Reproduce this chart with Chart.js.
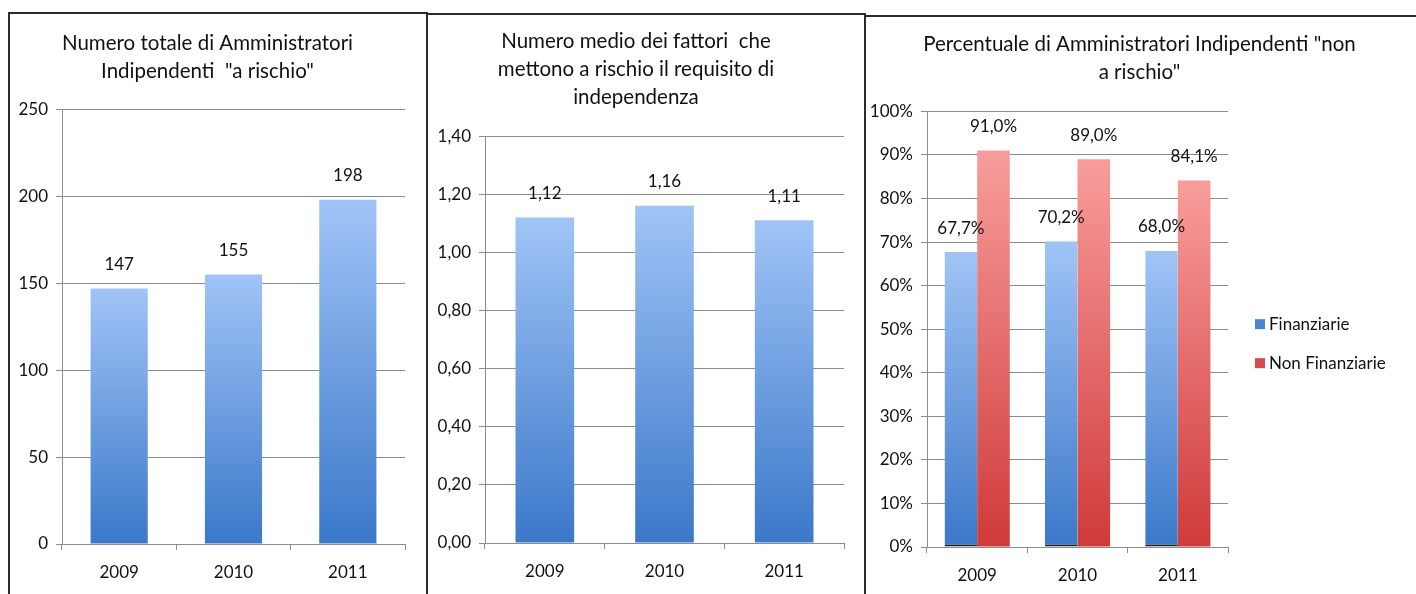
<!DOCTYPE html>
<html>
<head>
<meta charset="utf-8">
<script src="https://cdn.jsdelivr.net/npm/chart.js@4/dist/chart.umd.min.js"></script>
<style>
  html, body { margin: 0; padding: 0; background: #fff; width: 1416px; height: 594px; overflow: hidden; }
  canvas { position: absolute; }
  .frame { position: absolute; border: 2px solid #2b2b2b; box-sizing: border-box; }
</style>
</head>
<body>
<div class="frame" style="left:8px; top:12px; width:420px; height:600px;"></div>
<div class="frame" style="left:426px; top:13px; width:440px; height:600px;"></div>
<div class="frame" style="left:864px; top:15px; width:560px; height:600px;"></div>
<canvas id="chartTotale" width="415" height="580" style="left:10px; top:14px;"></canvas>
<canvas id="chartMedio" width="435" height="578" style="left:428px; top:15px;"></canvas>
<canvas id="chartPerc" width="547" height="575" style="left:866px; top:17px;"></canvas>
<script>
// dati
const anni = ['2009', '2010', '2011'];
const totaleRischio = [147, 155, 198];
const mediaFattori = [1.12, 1.16, 1.11];
const percFinanziarie = [67.7, 70.2, 68.0];
const percNonFinanziarie = [91.0, 89.0, 84.1];
const tickTotale = [0, 50, 100, 150, 200, 250];

const FONT = 'Lato, "Open Sans", sans-serif';
const GRID = '#8c8c8c';
const TEXT = '#111';

Chart.defaults.font.family = FONT;
Chart.defaults.color = TEXT;
Chart.defaults.animation = false;

function virgola(v, dec) {
    return v.toFixed(dec).replace('.', ',');
}

// gradiente verticale per ogni barra (chiaro in alto, scuro in basso)
function gradiente(topColor, bottomColor, flat) {
    return function (ctx) {
        const chart = ctx.chart;
        const area = chart.chartArea;
        if (!area || ctx.type !== 'data') return flat;
        const y = chart.scales.y.getPixelForValue(ctx.raw);
        const g = chart.ctx.createLinearGradient(0, y, 0, area.bottom);
        g.addColorStop(0, topColor);
        g.addColorStop(1, bottomColor);
        return g;
    };
}

// etichette sopra le barre
const etichette = {
    id: 'etichette',
    afterDatasetsDraw(chart, args, opts) {
        const c = chart.ctx;
        c.save();
        c.font = '17px ' + FONT;
        c.fillStyle = TEXT;
        c.textAlign = 'center';
        c.textBaseline = 'middle';
        chart.data.datasets.forEach((ds, i) => {
            chart.getDatasetMeta(i).data.forEach((bar, j) => {
                c.fillText(opts.format(ds.data[j]), bar.x, bar.y - 24);
            });
        });
        c.restore();
    }
};

// legenda a destra del grafico 3
const legendaDestra = {
    id: 'legendaDestra',
    afterDraw(chart, args, opts) {
        if (!opts.display) return;
        const c = chart.ctx;
        const area = chart.chartArea;
        const cy = (area.top + area.bottom) / 2;
        c.save();
        c.font = '17px ' + FONT;
        c.textAlign = 'left';
        c.textBaseline = 'middle';
        chart.data.datasets.forEach((ds, i) => {
            const y = cy - 5 + i * 39;
            const x = area.right + 27;
            c.fillStyle = opts.colors[i];
            c.fillRect(x, y - 5, 10, 10);
            c.fillStyle = TEXT;
            c.fillText(ds.label, x + 14, y);
        });
        c.restore();
    }
};

function assi(yOpts, yWidth) {
    return {
        x: {
            grid: { display: true, drawOnChartArea: false, color: GRID, tickLength: 6, offset: true },
            border: { color: GRID },
            ticks: { font: { size: 17 }, padding: 12 },
            afterFit: s => { s.height = 40; }
        },
        y: Object.assign({
            beginAtZero: true,
            grid: { color: GRID, tickLength: 6 },
            border: { color: GRID },
            afterFit: s => { s.width = yWidth; }
        }, yOpts)
    };
}

function titolo(righe, top, bottom) {
    return {
        display: true,
        text: righe,
        font: { size: 20.5, weight: 'normal', lineHeight: 1.35 },
        color: TEXT,
        padding: { top: top, bottom: bottom }
    };
}

// --- Grafico 1: numero totale ---
new Chart(document.getElementById('chartTotale'), {
    type: 'bar',
    data: {
        labels: anni,
        datasets: [{
            label: 'Totale',
            data: totaleRischio,
            backgroundColor: gradiente('#a0c4f6', '#3b78c9', '#5e93dc'),
            barPercentage: 1,
            categoryPercentage: 0.5
        }]
    },
    options: {
        responsive: false,
        layout: { padding: { left: 0, right: 20, top: 0, bottom: 10 } },
        scales: assi({
            max: 250,
            afterBuildTicks: s => { s.ticks = tickTotale.map(v => ({ value: v })); },
            ticks: { font: { size: 17 }, padding: 8 }
        }, 52),
        plugins: {
            legend: { display: false },
            tooltip: { enabled: false },
            title: titolo(['Numero totale di Amministratori', 'Indipendenti  "a rischio"'], 16, 24),
            etichette: { format: v => String(v) }
        }
    },
    plugins: [etichette]
});

// --- Grafico 2: numero medio ---
new Chart(document.getElementById('chartMedio'), {
    type: 'bar',
    data: {
        labels: anni,
        datasets: [{
            label: 'Media',
            data: mediaFattori,
            backgroundColor: gradiente('#a0c4f6', '#3b78c9', '#5e93dc'),
            barPercentage: 1,
            categoryPercentage: 0.49
        }]
    },
    options: {
        responsive: false,
        layout: { padding: { left: 0, right: 19, top: 0, bottom: 10 } },
        scales: assi({
            max: 1.4,
            ticks: { stepSize: 0.2, font: { size: 17 }, padding: 8, callback: v => virgola(v, 2) }
        }, 57),
        plugins: {
            legend: { display: false },
            tooltip: { enabled: false },
            title: titolo(['Numero medio dei fattori  che', 'mettono a rischio il requisito di', 'independenza'], 13, 25),
            etichette: { format: v => virgola(v, 2) }
        }
    },
    plugins: [etichette]
});

// --- Grafico 3: percentuale non a rischio ---
const scalePerc = assi({
    max: 100,
    ticks: { stepSize: 10, font: { size: 17 }, padding: 8, callback: v => v + '%' }
}, 61);
// asse vuoto a destra: riserva lo spazio per la legenda senza stringere il titolo
scalePerc.spazioLegenda = {
    type: 'linear',
    position: 'right',
    grid: { display: false },
    border: { display: false },
    ticks: { display: false },
    afterFit: s => { s.width = 185; }
};

new Chart(document.getElementById('chartPerc'), {
    type: 'bar',
    data: {
        labels: anni,
        datasets: [{
            label: 'Finanziarie',
            data: percFinanziarie,
            backgroundColor: gradiente('#a0c4f6', '#3b78c9', '#4f86d2'),
            borderColor: '#1e1e1e',
            borderWidth: { top: 0, left: 0, right: 0, bottom: 2 },
            borderSkipped: false,
            barPercentage: 1,
            categoryPercentage: 0.65
        }, {
            label: 'Non Finanziarie',
            data: percNonFinanziarie,
            backgroundColor: gradiente('#f89d9c', '#cf3a3a', '#d9474a'),
            barPercentage: 1,
            categoryPercentage: 0.65
        }]
    },
    options: {
        responsive: false,
        layout: { padding: { left: 0, right: 0, top: 0, bottom: 5 } },
        scales: scalePerc,
        plugins: {
            legend: { display: false },
            tooltip: { enabled: false },
            title: titolo(['Percentuale di Amministratori Indipendenti "non', 'a rischio"'], 14, 25),
            etichette: { format: v => virgola(v, 1) + '%' },
            legendaDestra: { display: true, colors: ['#4a84d0', '#d84a4c'] }
        }
    },
    plugins: [etichette, legendaDestra]
});
</script>
</body>
</html>
